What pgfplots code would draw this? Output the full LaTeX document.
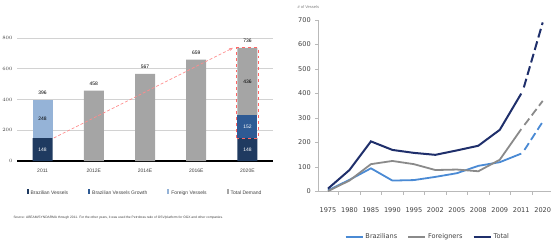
\documentclass[border=0pt]{standalone}
\usepackage{fontspec}
\setmainfont{Liberation Sans}
\newfontfamily\dejavu{DejaVu Sans}
\usepackage{pgfplots}
\pgfplotsset{compat=1.18}
\usetikzlibrary{arrows.meta}
\definecolor{bnavy}{HTML}{1F3A60}
\definecolor{bmid}{HTML}{2E5A94}
\definecolor{blight}{HTML}{95B3D7}
\definecolor{bgray}{HTML}{A5A5A5}
\definecolor{lnavy}{HTML}{1F2F6B}
\definecolor{lblue}{HTML}{4A8AD4}
\definecolor{lgray}{HTML}{8A8A8A}
\definecolor{txt}{HTML}{404040}
\newcommand{\sm}{\fontsize{5}{6}\selectfont}
\begin{document}
\begin{tikzpicture}[x=1bp,y=1bp]
\path[use as bounding box] (0,0) rectangle (555,246);
% ---------------- left bar chart
\begin{axis}[at={(17bp,85bp)}, anchor=south west,
  width=256bp, height=123bp, scale only axis,
  ybar stacked, bar width=20bp,
  xmin=-0.5, xmax=4.5, ymin=0, ymax=800,
  ytick={0,200,...,800}, ymajorgrids,
  grid style={gray!35, line width=0.7bp},
  axis x line*=bottom, axis y line*=left,
  x axis line style={-, black, line width=2.4bp},
  y axis line style={draw=none},
  major tick length=0pt,
  xtick={0,...,4}, xticklabels={2011,2012E,2014E,2016E,2020E},
  tick label style={font=\sm, text=txt},
  xticklabel style={yshift=-4bp},
  yticklabel style={xshift=-1bp},
  legend style={at={(0.5,-0.26)}, anchor=center, legend columns=4, draw=none, fill=none,
    font=\sm, text=txt, /tikz/every even column/.append style={column sep=18bp},
    inner sep=0pt},
  clip=false]
\addplot[fill=bnavy, draw=none, legend image code/.code={\fill[bnavy] (0bp,-1.5bp) rectangle (2bp,3.5bp);}] coordinates {(0,148) (1,0) (2,0) (3,0) (4,148)};
\addlegendentry{Brazilian Vessels}
\addplot[fill=bmid, draw=none, legend image code/.code={\fill[bmid] (0bp,-1.5bp) rectangle (2bp,3.5bp);}] coordinates {(0,0) (1,0) (2,0) (3,0) (4,152)};
\addlegendentry{Brazilian Vessels Growth}
\addplot[fill=blight, draw=none, legend image code/.code={\fill[blight] (0bp,-1.5bp) rectangle (2bp,3.5bp);}] coordinates {(0,248) (1,0) (2,0) (3,0) (4,0)};
\addlegendentry{Foreign Vessels}
\addplot[fill=bgray, draw=none, legend image code/.code={\fill[bgray] (0bp,-1.5bp) rectangle (2bp,3.5bp);}] coordinates {(0,0) (1,458) (2,567) (3,659) (4,436)};
\addlegendentry{Total Demand}
\coordinate (arA) at (axis cs:0.22,150);
\coordinate (arB) at (axis cs:3.72,736);
\coordinate (rcA) at (axis cs:3.79,148);
\coordinate (rcB) at (axis cs:4.21,736);
\coordinate (l1) at (axis cs:0,74);
\coordinate (l2) at (axis cs:0,272);
\coordinate (l3) at (axis cs:4,74);
\coordinate (l4) at (axis cs:4,224);
\coordinate (l5) at (axis cs:4,518);
\coordinate (t0) at (axis cs:0,396);
\coordinate (t1) at (axis cs:1,458);
\coordinate (t2) at (axis cs:2,567);
\coordinate (t3) at (axis cs:3,659);
\coordinate (t4) at (axis cs:4,736);
\end{axis}
\draw[red!45, densely dashed, line width=0.7bp, -{Stealth[length=4bp]}] (arA) -- (arB);
\draw[red!60, dashed, line width=0.8bp] (rcA) rectangle (rcB);
\node[text=white, font=\sm] at (l1) {148};
\node[text=black, font=\sm] at (l2) {248};
\node[text=white, font=\sm] at (l3) {148};
\node[text=white, font=\sm] at (l4) {152};
\node[text=black, font=\sm] at (l5) {436};
\node[black, font=\sm, anchor=south, yshift=2bp] at (t0) {396};
\node[black, font=\sm, anchor=south, yshift=2bp] at (t1) {458};
\node[black, font=\sm, anchor=south, yshift=2bp] at (t2) {567};
\node[black, font=\sm, anchor=south, yshift=2bp] at (t3) {659};
\node[black, font=\sm, anchor=south, yshift=2bp] at (t4) {736};
\node[anchor=west, font=\fontsize{3.3}{4}\selectfont, text=txt] at (10bp,28bp) {Source: ABEAM/SYNDARMA through 2011. For the other years, it was used the Petrobras ratio of OSV/platform for OGX and other companies.};
% ---------------- right line chart
\begin{axis}[at={(318.3bp,54.4bp)}, anchor=south west,
  width=233bp, height=171.6bp, scale only axis,
  xmin=-0.45, xmax=10.4, ymin=0, ymax=700,
  axis lines=left, axis line style={-, draw=gray!55, line width=0.6bp},
  ytick={0,100,...,700},
  xtick={0,...,10},
  xticklabels={1975,1980,1985,1990,1995,2002,2005,2008,2009,2011,2020},
  minor xtick={0.5,1.5,...,9.5},
  x tick style={draw=none}, minor x tick style={draw=gray!55, line width=0.6bp},
  minor tick length=3bp,
  y tick style={draw=gray!55, line width=0.6bp}, major tick length=3bp,
  tick align=outside,
  tick label style={font=\dejavu\fontsize{6.6}{7.5}\selectfont, text=txt},
  /pgf/number format/assume math mode=true,
  yticklabel style={xshift=-1bp},
  xticklabel style={yshift=-9bp},
  legend style={at={(0.47,-0.263)}, anchor=center, legend columns=3, draw=none, fill=none,
    font=\dejavu\fontsize{6.6}{7.5}\selectfont, text=txt, /tikz/every even column/.append style={column sep=8bp},
    inner sep=0pt},
  clip=false]
\addplot[lblue, line width=1.8bp] coordinates {(0,5) (1,48) (2,95) (3,45) (4,47) (5,60) (6,75) (7,105) (8,120) (9,155)};
\addlegendentry{Brazilians}
\addplot[lgray, line width=1.8bp] coordinates {(0,2) (1,45) (2,112) (3,125) (4,112) (5,88) (6,90) (7,83) (8,130) (9,255)};
\addlegendentry{Foreigners}
\addplot[lnavy, line width=2bp] coordinates {(0,12) (1,88) (2,205) (3,170) (4,158) (5,150) (6,168) (7,187) (8,252) (9,400)};
\addlegendentry{Total}
\addplot[lblue, line width=1.8bp, dash pattern=on 8bp off 4bp, forget plot] coordinates {(9.15,170) (10,285)};
\addplot[lgray, line width=1.8bp, dash pattern=on 8bp off 4bp, forget plot] coordinates {(9.15,272) (10,370)};
\addplot[lnavy, line width=2bp, dash pattern=on 9bp off 4bp, forget plot] coordinates {(9.12,425) (10,690)};
\end{axis}
\node[anchor=west, font=\fontsize{4}{5}\selectfont, text=gray] at (294bp,239bp) {\# of Vessels};
\end{tikzpicture}
\end{document}
